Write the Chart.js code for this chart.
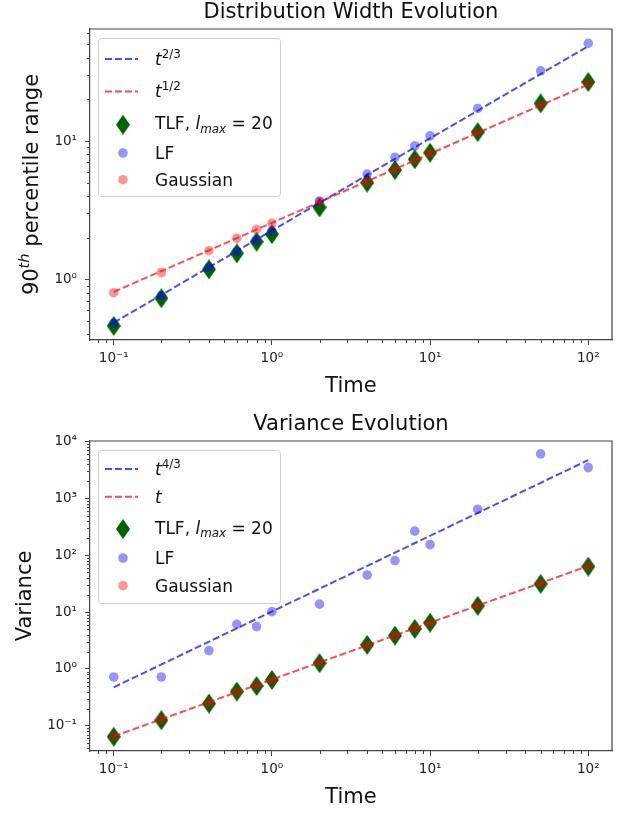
<!DOCTYPE html>
<html><head><meta charset="utf-8">
<script src="https://cdn.jsdelivr.net/npm/chart.js@4.4.1/dist/chart.umd.min.js"></script>
<style>
html,body{margin:0;padding:0;background:#fff;}
#wrap{position:relative;width:624px;height:813px;overflow:hidden;}
canvas{position:absolute;left:0;}
</style></head><body>
<div id="wrap">
<canvas id="cTop" width="624" height="410" style="top:0"></canvas>
<canvas id="cBot" width="624" height="403" style="top:410px"></canvas>
</div>
<script>
// ---------------- data ----------------
const times = [0.1, 0.2, 0.4, 0.6, 0.8, 1, 2, 4, 6, 8, 10, 20, 50, 100];

// 90th percentile range (top panel)
const widthTLF   = [0.46, 0.73, 1.18, 1.54, 1.87, 2.12, 3.31, 5.0, 6.17, 7.38, 8.23, 11.6, 18.7, 26.7];
const widthLF    = [0.48, 0.76, 1.22, 1.59, 1.92, 2.24, 3.68, 5.77, 7.62, 9.2, 10.9, 17.2, 32.2, 50.8];
const widthGauss = [0.80, 1.12, 1.61, 1.98, 2.30, 2.54, 3.64, 5.05, 6.2, 7.3, 8.15, 11.5, 18.3, 26.0];
const widthLineT = [0.1, 100];
const widthLine23 = [0.485, 48.5];
const widthLine12 = [0.81, 25.6];

// variance (bottom panel)
const varTLF   = [0.064, 0.125, 0.245, 0.40, 0.50, 0.64, 1.26, 2.65, 3.86, 5.06, 6.5, 12.9, 31.4, 63.2];
const varLF    = [0.72, 0.72, 2.1, 6.1, 5.56, 10.2, 13.8, 45, 80.8, 266, 154, 648, 6100, 3500];
const varGauss = [0.065, 0.13, 0.25, 0.39, 0.51, 0.63, 1.28, 2.55, 3.8, 5.1, 6.4, 12.8, 32, 64];
const varLineT = [0.1, 100];
const varLine43 = [0.475, 4750];
const varLine1  = [0.065, 65];

// ticks
const xTickVals = [0.1, 1, 10, 100];
const xTickLabels = ['10\u207B\u00B9', '10\u2070', '10\u00B9', '10\u00B2'];
const topYTickVals = [1, 10];
const topYTickLabels = ['10\u2070', '10\u00B9'];
const botYTickVals = [0.1, 1, 10, 100, 1000, 10000];
const botYTickLabels = ['10\u207B\u00B9', '10\u2070', '10\u00B9', '10\u00B2', '10\u00B3', '10\u2074'];

// texts
const titleTop = 'Distribution Width Evolution';
const titleBot = 'Variance Evolution';
const xLabel = 'Time';
const yLabelTop = [{t:'90'}, {t:'th', it:1, sup:1}, {t:' percentile range'}];
const yLabelBot = [{t:'Variance'}];
const legendTop = [
  [{t:'t', it:1}, {t:'2/3', sup:1}],
  [{t:'t', it:1}, {t:'1/2', sup:1}],
  [{t:'TLF, '}, {t:'l', it:1}, {t:'max', it:1, sub:1}, {t:' = 20'}],
  [{t:'LF'}],
  [{t:'Gaussian'}]
];
const legendBot = [
  [{t:'t', it:1}, {t:'4/3', sup:1}],
  [{t:'t', it:1}],
  [{t:'TLF, '}, {t:'l', it:1}, {t:'max', it:1, sub:1}, {t:' = 20'}],
  [{t:'LF'}],
  [{t:'Gaussian'}]
];

// ---------------- styles ----------------
const FAM = '"DejaVu Sans"';
Chart.defaults.font.family = 'DejaVu Sans';
const BLUE_LINE = 'rgba(0,0,255,0.7)';
const RED_LINE = 'rgba(255,0,0,0.7)';
const BLUE_PT = 'rgba(0,0,255,0.42)';
const RED_PT = 'rgba(255,0,0,0.42)';
const GREEN = '#006400';
const DASH = [7, 3];

function makeDiamond(w, h, color) {
  const c = document.createElement('canvas');
  c.width = w; c.height = h;
  const g = c.getContext('2d');
  g.fillStyle = color;
  g.beginPath();
  g.moveTo(w/2, 0); g.lineTo(w, h/2); g.lineTo(w/2, h); g.lineTo(0, h/2);
  g.closePath(); g.fill();
  return c;
}
const diamond = makeDiamond(14, 20, GREEN);

function pts(xs, ys) { return xs.map((x, i) => ({x: x, y: ys[i]})); }

function segFont(s, size) {
  const sz = (s.sup || s.sub) ? size * 0.7 : size;
  return (s.it ? 'italic ' : '') + sz.toFixed(2) + 'px ' + FAM;
}
function richWidth(ctx, segs, size) {
  let w = 0;
  for (const s of segs) { ctx.font = segFont(s, size); w += ctx.measureText(s.t).width; }
  return w;
}
function richDraw(ctx, segs, x, y, size) {
  ctx.textBaseline = 'alphabetic'; ctx.textAlign = 'left';
  for (const s of segs) {
    ctx.font = segFont(s, size);
    const dy = s.sup ? -0.42 * size : (s.sub ? 0.2 * size : 0);
    ctx.fillText(s.t, x, y + dy);
    x += ctx.measureText(s.t).width;
  }
}

const decoPlugin = {
  id: 'deco',
  afterDraw(chart, args, o) {
    const ctx = chart.ctx, ca = chart.chartArea;
    ctx.save();
    // top & right spines
    ctx.strokeStyle = '#444'; ctx.lineWidth = 1.2;
    ctx.beginPath();
    ctx.moveTo(ca.left, ca.top); ctx.lineTo(ca.right, ca.top); ctx.lineTo(ca.right, ca.bottom);
    ctx.stroke();
    // minor ticks
    ctx.strokeStyle = '#444'; ctx.lineWidth = 1;
    const minor = (scale, horiz) => {
      const e0 = Math.floor(Math.log10(scale.min)), e1 = Math.ceil(Math.log10(scale.max));
      for (let e = e0; e <= e1; e++) for (let k = 2; k <= 9; k++) {
        const v = k * Math.pow(10, e);
        if (v < scale.min || v > scale.max) continue;
        const p = Math.round(scale.getPixelForValue(v)) + 0.5;
        ctx.beginPath();
        if (horiz) { ctx.moveTo(p, ca.bottom); ctx.lineTo(p, ca.bottom + 3); }
        else { ctx.moveTo(ca.left, p); ctx.lineTo(ca.left - 3, p); }
        ctx.stroke();
      }
    };
    minor(chart.scales.x, true); minor(chart.scales.y, false);
    // title
    ctx.fillStyle = '#111';
    ctx.font = o.titleSize + 'px ' + FAM;
    ctx.textAlign = 'center'; ctx.textBaseline = 'middle';
    ctx.fillText(o.title, (ca.left + ca.right) / 2, ca.top - o.titleGap);
    // y label
    ctx.save();
    ctx.translate(o.yLabelX, (ca.top + ca.bottom) / 2);
    ctx.rotate(-Math.PI / 2);
    const w = richWidth(ctx, o.yLabel, o.yLabelSize);
    richDraw(ctx, o.yLabel, -w / 2, 0.36 * o.yLabelSize, o.yLabelSize);
    ctx.restore();
    // legend
    const L = o.legend;
    const bx = ca.left + L.dx, by = ca.top + L.dy;
    ctx.fillStyle = 'rgba(255,255,255,0.85)';
    ctx.strokeStyle = '#d0d0d0'; ctx.lineWidth = 1;
    ctx.beginPath();
    if (ctx.roundRect) ctx.roundRect(bx + 0.5, by + 0.5, L.w, L.h, 3); else ctx.rect(bx + 0.5, by + 0.5, L.w, L.h);
    ctx.fill(); ctx.stroke();
    L.items.forEach((it, i) => {
      const cy = by + L.rows[i];
      if (it.kind === 'line') {
        ctx.save();
        ctx.strokeStyle = it.color; ctx.lineWidth = 2; ctx.setLineDash(DASH);
        ctx.beginPath(); ctx.moveTo(bx + 7, cy); ctx.lineTo(bx + 40, cy); ctx.stroke();
        ctx.restore();
      } else if (it.kind === 'diamond') {
        ctx.drawImage(diamond, bx + 25 - 7, cy - 10);
      } else {
        ctx.fillStyle = it.color;
        ctx.beginPath(); ctx.arc(bx + 25, cy, 4.8, 0, Math.PI * 2); ctx.fill();
      }
      ctx.fillStyle = '#111';
      richDraw(ctx, it.label, bx + 57, cy + (it.base || 6), 17);
    });
    ctx.restore();
  }
};

function makeChart(id, d) {
  const H = document.getElementById(id).height;
  return new Chart(document.getElementById(id), {
    type: 'scatter',
    data: {
      datasets: [
        {label: 'line2', data: pts(d.lineT, d.line2), showLine: true, borderColor: RED_LINE, borderWidth: 2,
         borderDash: DASH, pointRadius: 0, fill: false, order: 0},
        {label: 'line1', data: pts(d.lineT, d.line1), showLine: true, borderColor: BLUE_LINE, borderWidth: 2,
         borderDash: DASH, pointRadius: 0, fill: false, order: 1},
        {label: 'Gaussian', data: pts(times, d.gauss), pointRadius: 4.8, backgroundColor: RED_PT,
         borderWidth: 0, order: 2},
        {label: 'LF', data: pts(times, d.lf), pointRadius: 4.8, backgroundColor: BLUE_PT,
         borderWidth: 0, order: 3},
        {label: 'TLF', data: pts(times, d.tlf), pointStyle: diamond, pointRadius: 9, order: 4}
      ]
    },
    options: {
      responsive: false, animation: false, devicePixelRatio: 1,
      layout: {padding: {top: d.areaTop, right: 12, left: 0, bottom: 0}},
      plugins: {
        legend: {display: false}, tooltip: {enabled: false},
        deco: {title: d.title, titleSize: 21, titleGap: 16, yLabel: d.yLabel, yLabelSize: 21,
               yLabelX: d.yLabelX, legend: d.legend}
      },
      scales: {
        x: {
          type: 'logarithmic', min: Math.pow(10, -1.15), max: Math.pow(10, 2.15), bounds: 'data',
          afterBuildTicks: s => { s.ticks = xTickVals.map(v => ({value: v, major: true})); },
          afterFit: s => { s.height = H - d.areaBottom; },
          ticks: {autoSkip: false, maxRotation: 0, padding: 5, color: '#222',
                  font: {size: 13.5}, callback: (v, i) => xTickLabels[i]},
          grid: {drawOnChartArea: false, drawTicks: true, tickLength: 5, tickColor: '#444', tickWidth: 1},
          border: {display: true, color: '#444', width: 1.2},
          title: {display: true, text: xLabel, color: '#111', font: {size: 21},
                  padding: {top: 0, bottom: d.xTitlePad}}
        },
        y: {
          type: 'logarithmic', min: d.yMin, max: d.yMax, bounds: 'data',
          afterBuildTicks: s => { s.ticks = d.yTickVals.map(v => ({value: v, major: true})); },
          afterFit: s => { s.width = 90; },
          ticks: {autoSkip: false, padding: 8, color: '#222', font: {size: 13.5},
                  callback: (v, i) => d.yTickLabels[i]},
          grid: {drawOnChartArea: false, drawTicks: true, tickLength: 5, tickColor: '#444', tickWidth: 1},
          border: {display: true, color: '#444', width: 1.2}
        }
      }
    },
    plugins: [decoPlugin]
  });
}

makeChart('cTop', {
  lineT: widthLineT, line1: widthLine23, line2: widthLine12,
  tlf: widthTLF, lf: widthLF, gauss: widthGauss,
  areaTop: 29, areaBottom: 340, xTitlePad: 11,
  yMin: Math.pow(10, -0.439), yMax: Math.pow(10, 1.81),
  yTickVals: topYTickVals, yTickLabels: topYTickLabels,
  title: titleTop, yLabel: yLabelTop, yLabelX: 30,
  legend: {dx: 8, dy: 9, w: 182, h: 158, rows: [21, 53.4, 86.7, 115, 141.7],
    items: [
      {kind: 'line', color: BLUE_LINE, label: legendTop[0], base: 6},
      {kind: 'line', color: RED_LINE, label: legendTop[1], base: 6},
      {kind: 'diamond', label: legendTop[2], base: 4.5},
      {kind: 'circle', color: BLUE_PT, label: legendTop[3]},
      {kind: 'circle', color: RED_PT, label: legendTop[4]}
    ]}
});

makeChart('cBot', {
  lineT: varLineT, line1: varLine43, line2: varLine1,
  tlf: varTLF, lf: varLF, gauss: varGauss,
  areaTop: 31, areaBottom: 341, xTitlePad: 3,
  yMin: Math.pow(10, -1.445), yMax: Math.pow(10, 4.012),
  yTickVals: botYTickVals, yTickLabels: botYTickLabels,
  title: titleBot, yLabel: yLabelBot, yLabelX: 23,
  legend: {dx: 8, dy: 9, w: 182, h: 153, rows: [19, 46.7, 79, 108, 135.7],
    items: [
      {kind: 'line', color: BLUE_LINE, label: legendBot[0], base: 6},
      {kind: 'line', color: RED_LINE, label: legendBot[1], base: 6.5},
      {kind: 'diamond', label: legendBot[2], base: 4.5},
      {kind: 'circle', color: BLUE_PT, label: legendBot[3]},
      {kind: 'circle', color: RED_PT, label: legendBot[4]}
    ]}
});
</script>
</body></html>
